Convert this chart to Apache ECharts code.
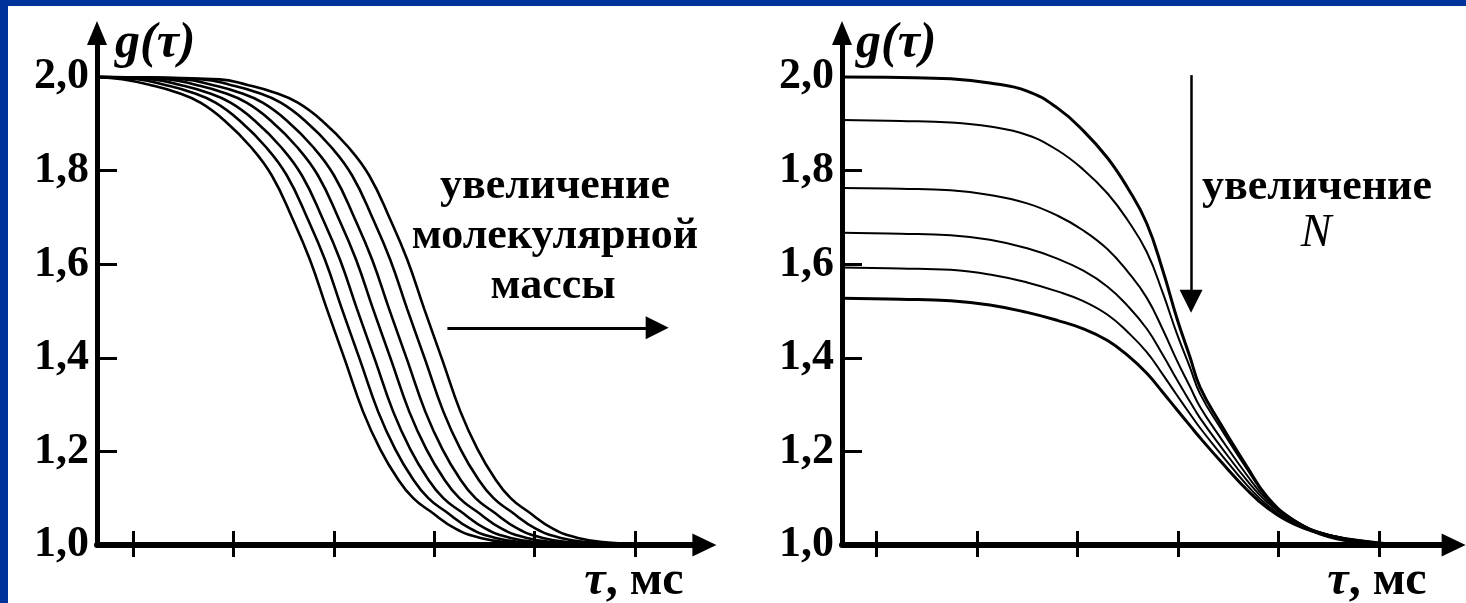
<!DOCTYPE html>
<html>
<head>
<meta charset="utf-8">
<script src="https://cdn.jsdelivr.net/npm/echarts@6/dist/echarts.min.js"></script>
<style>
  html, body { margin: 0; padding: 0; background: #fff; }
  #chart { position: absolute; left: 0; top: 0; width: 1466px; height: 603px; }
  .band { position: absolute; background: #003399; pointer-events: none; }
</style>
</head>
<body>
<div id="chart"></div>
<div class="band" style="left:0;top:0;width:1466px;height:6px;"></div>
<div class="band" style="left:0;top:0;width:8px;height:603px;"></div>
<script>
// ---------- data ----------
// Left panel: g(tau) shape shared by the 7 curves (each curve shifted along tau)
const gLeft = [2.000, 1.995, 1.983, 1.968, 1.945, 1.905, 1.851, 1.790, 1.696, 1.610, 1.504,
               1.395, 1.285, 1.205, 1.143, 1.100, 1.072, 1.035, 1.015, 1.005, 1.002, 1.000];
const tauM1 = [0.64, 0.89, 1.17, 1.42, 1.67, 1.92, 2.17, 2.38, 2.59, 2.76, 2.93, 3.11, 3.29, 3.46, 3.63, 3.79, 3.96, 4.21, 4.46, 4.76, 5.05, 5.65];
const tauM2 = [0.64, 1.04, 1.32, 1.57, 1.82, 2.07, 2.32, 2.53, 2.74, 2.91, 3.08, 3.26, 3.44, 3.61, 3.78, 3.94, 4.11, 4.36, 4.61, 4.91, 5.20, 5.80];
const tauM3 = [0.64, 1.19, 1.47, 1.72, 1.97, 2.22, 2.47, 2.68, 2.89, 3.06, 3.23, 3.41, 3.59, 3.76, 3.93, 4.09, 4.26, 4.51, 4.76, 5.06, 5.35, 5.95];
const tauM4 = [0.64, 1.35, 1.63, 1.88, 2.13, 2.38, 2.63, 2.84, 3.05, 3.22, 3.39, 3.57, 3.75, 3.92, 4.09, 4.25, 4.42, 4.67, 4.92, 5.22, 5.51, 6.11];
const tauM5 = [0.64, 1.51, 1.79, 2.04, 2.29, 2.54, 2.79, 3.00, 3.21, 3.38, 3.55, 3.73, 3.91, 4.08, 4.25, 4.41, 4.58, 4.83, 5.08, 5.38, 5.67, 6.27];
const tauM6 = [0.64, 1.69, 1.97, 2.22, 2.47, 2.72, 2.97, 3.18, 3.39, 3.56, 3.73, 3.91, 4.09, 4.26, 4.43, 4.59, 4.76, 5.01, 5.26, 5.56, 5.85, 6.45];
const tauM7 = [0.64, 1.86, 2.14, 2.39, 2.64, 2.89, 3.14, 3.35, 3.56, 3.73, 3.90, 4.08, 4.26, 4.43, 4.60, 4.76, 4.93, 5.18, 5.43, 5.73, 6.02, 6.62];

// Right panel: common tau grid, one g array per N
const tauRight = [0.66, 1.24, 1.74, 2.13, 2.50, 2.80, 3.06, 3.30, 3.50, 3.69, 3.85, 3.99, 4.12, 4.22, 4.42, 4.69, 4.89, 5.15, 5.51, 5.94, 6.31];
const gN1 = [2.000, 1.999, 1.996, 1.987, 1.970, 1.934, 1.885, 1.827, 1.763, 1.687, 1.586, 1.484, 1.401, 1.337, 1.260, 1.166, 1.102, 1.053, 1.017, 1.004, 1.000];
const gN2 = [1.908, 1.906, 1.903, 1.894, 1.876, 1.844, 1.802, 1.751, 1.694, 1.626, 1.538, 1.451, 1.379, 1.323, 1.251, 1.161, 1.101, 1.054, 1.019, 1.005, 1.000];
const gN3 = [1.763, 1.761, 1.758, 1.748, 1.730, 1.704, 1.672, 1.632, 1.584, 1.528, 1.460, 1.394, 1.338, 1.295, 1.230, 1.148, 1.096, 1.053, 1.021, 1.006, 1.000];
const gN4 = [1.667, 1.665, 1.662, 1.652, 1.634, 1.612, 1.586, 1.552, 1.511, 1.462, 1.406, 1.353, 1.306, 1.271, 1.212, 1.137, 1.091, 1.051, 1.021, 1.006, 1.000];
const gN5 = [1.593, 1.591, 1.588, 1.578, 1.561, 1.542, 1.521, 1.492, 1.455, 1.412, 1.364, 1.320, 1.280, 1.250, 1.196, 1.127, 1.085, 1.048, 1.021, 1.006, 1.000];
const gN6 = [1.527, 1.525, 1.522, 1.513, 1.497, 1.480, 1.462, 1.437, 1.405, 1.367, 1.326, 1.289, 1.255, 1.229, 1.180, 1.117, 1.079, 1.045, 1.020, 1.006, 1.000];

// axis ticks / labels
const xTicks = [1, 2, 3, 4, 5, 6];
const yTickMarks = [1.2, 1.4, 1.6, 1.8];
const yLabelValues = [1.0, 1.2, 1.4, 1.6, 1.8, 2.0];

// annotation arrows (data coordinates)
const arrowLeft = { from: [4.13, 1.464], to: [6.22, 1.464] };
const arrowRight = { from: [4.13, 2.004], to: [4.13, 1.521] };

// ---------- chart ----------
const SERIF = '"Liberation Serif", "Times New Roman", serif';
const chart = echarts.init(document.getElementById('chart'), null, { renderer: 'canvas' });

const leftTaus = [tauM1, tauM2, tauM3, tauM4, tauM5, tauM6, tauM7];
const rightGs = [gN1, gN2, gN3, gN4, gN5, gN6];
const rightWidths = [3, 2, 2, 2, 2, 3];

function yAxisCfg(gridIndex) {
  return {
    type: 'value', gridIndex: gridIndex, min: 1.0, max: 2.094,
    axisLine: { show: true, lineStyle: { color: '#000', width: 5 },
      symbol: ['none', 'triangle'], symbolSize: [20, 24] },
    axisTick: { show: true, inside: true, length: 20, customValues: yTickMarks,
      lineStyle: { color: '#000', width: 3 } },
    axisLabel: { show: true, customValues: yLabelValues, margin: 8,
      color: '#000', fontFamily: SERIF, fontWeight: 'bold', fontSize: 44,
      formatter: v => v.toFixed(1).replace('.', ',') },
    splitLine: { show: false }
  };
}
function xAxisCfg(gridIndex, min, max, showLine, inside, len) {
  return {
    type: 'value', gridIndex: gridIndex, min: min, max: max, position: 'bottom',
    axisLine: showLine ? { show: true, onZero: false, lineStyle: { color: '#000', width: 6 },
      symbol: ['none', 'triangle'], symbolSize: [23, 24] } : { show: false, onZero: false },
    axisTick: { show: true, inside: inside, length: len, customValues: xTicks,
      lineStyle: { color: '#000', width: 3 } },
    axisLabel: { show: false },
    splitLine: { show: false }
  };
}

const series = [];
leftTaus.forEach((tau, i) => {
  series.push({
    type: 'line', xAxisIndex: 0, yAxisIndex: 0,
    data: tau.map((t, j) => [t, gLeft[j]]),
    showSymbol: false, smooth: 0.45,
    lineStyle: { color: '#000', width: 2.6 },
    silent: true,
    markLine: i === 0 ? {
      silent: true, symbol: ['none', 'triangle'], symbolSize: 23,
      label: { show: false },
      lineStyle: { color: '#000', width: 3, type: 'solid' },
      data: [[{ coord: arrowLeft.from }, { coord: arrowLeft.to }]]
    } : undefined
  });
});
rightGs.forEach((g, i) => {
  series.push({
    type: 'line', xAxisIndex: 2, yAxisIndex: 1,
    data: tauRight.map((t, j) => [t, g[j]]),
    showSymbol: false, smooth: 0.45,
    lineStyle: { color: '#000', width: rightWidths[i] },
    silent: true,
    markLine: i === 0 ? {
      silent: true, symbol: ['none', 'triangle'], symbolSize: 23,
      label: { show: false },
      lineStyle: { color: '#000', width: 2.5, type: 'solid' },
      data: [[{ coord: arrowRight.from }, { coord: arrowRight.to }]]
    } : undefined
  });
});

const boldFont = 'bold 44px ' + SERIF;
const titleFont = 'italic bold 50px ' + SERIF;
const unitRich = { a: { font: 'italic bold 48px ' + SERIF, fill: '#000' }, b: { font: 'bold 48px ' + SERIF, fill: '#000' } };
const option = {
  animation: false,
  backgroundColor: '#fff',
  grid: [
    { left: 97, top: 33, width: 607.4, height: 512 },
    { left: 842, top: 33, width: 611.6, height: 512 }
  ],
  xAxis: [
    xAxisCfg(0, 0.64, 6.69, true, true, 14),
    xAxisCfg(0, 0.64, 6.69, false, false, 12),
    xAxisCfg(1, 0.66, 6.74, true, true, 14),
    xAxisCfg(1, 0.66, 6.74, false, false, 12)
  ],
  yAxis: [yAxisCfg(0), yAxisCfg(1)],
  series: series,
  graphic: [
    { type: 'text', x: 115, y: 44, style: { text: 'g(τ)', font: titleFont, fill: '#000', align: 'left', verticalAlign: 'middle' } },
    { type: 'text', x: 856, y: 44, style: { text: 'g(τ)', font: titleFont, fill: '#000', align: 'left', verticalAlign: 'middle' } },
    { type: 'text', x: 634, y: 582, style: { text: '{a|τ}{b|, мс}', align: 'center', verticalAlign: 'middle', rich: unitRich } },
    { type: 'text', x: 1377, y: 582, style: { text: '{a|τ}{b|, мс}', align: 'center', verticalAlign: 'middle', rich: unitRich } },
    { type: 'text', x: 555, y: 187, style: { text: 'увеличение', font: boldFont, fill: '#000', align: 'center', verticalAlign: 'middle' } },
    { type: 'text', x: 555, y: 237, style: { text: 'молекулярной', font: boldFont, fill: '#000', align: 'center', verticalAlign: 'middle' } },
    { type: 'text', x: 553, y: 287, style: { text: 'массы', font: boldFont, fill: '#000', align: 'center', verticalAlign: 'middle' } },
    { type: 'text', x: 1317, y: 188, style: { text: 'увеличение', font: boldFont, fill: '#000', align: 'center', verticalAlign: 'middle' } },
    { type: 'text', x: 1316, y: 234, style: { text: 'N', font: 'italic 46px ' + SERIF, fill: '#000', align: 'center', verticalAlign: 'middle' } }
  ]
};
chart.setOption(option);
</script>
</body>
</html>
